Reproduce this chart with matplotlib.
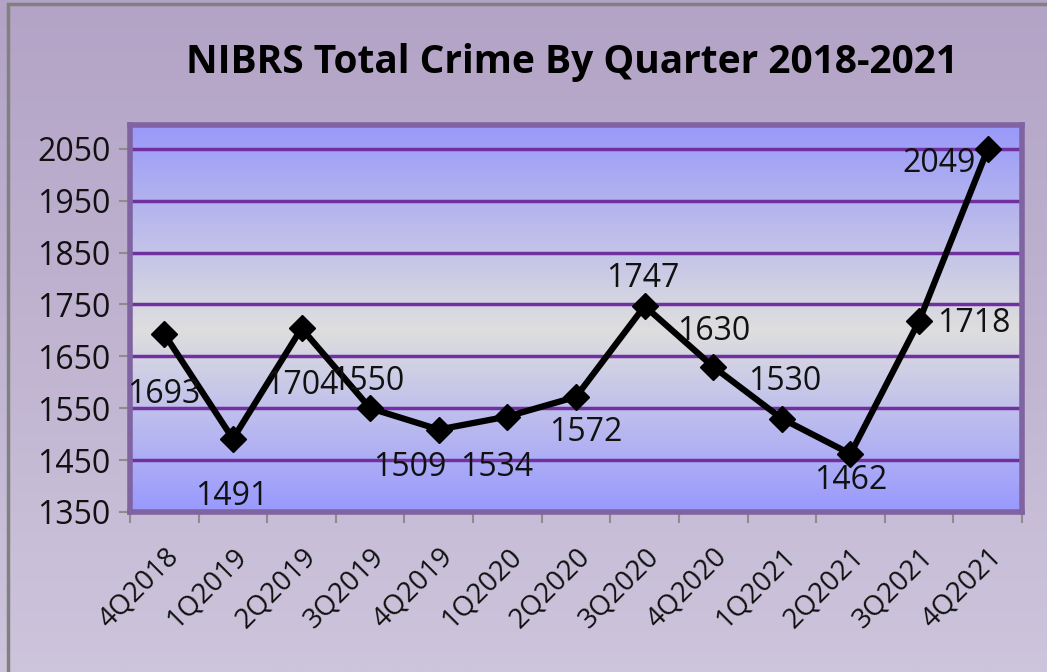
import numpy as np
import matplotlib
matplotlib.use('Agg')
import matplotlib.pyplot as plt
from matplotlib.colors import LinearSegmentedColormap
from matplotlib.patches import Rectangle

plt.rcParams['font.family'] = ['Open Sans', 'DejaVu Sans']

# data
quarters = ['4Q2018', '1Q2019', '2Q2019', '3Q2019', '4Q2019', '1Q2020', '2Q2020',
            '3Q2020', '4Q2020', '1Q2021', '2Q2021', '3Q2021', '4Q2021']
crimes = [1693, 1491, 1704, 1550, 1509, 1534, 1572, 1747, 1630, 1530, 1462, 1718, 2049]
yticks = [1350, 1450, 1550, 1650, 1750, 1850, 1950, 2050]

# label offsets in pixels (dx, dy)
label_offsets = [(-1, -60), (-1, -58), (0, -57), (-2, 27), (-29, -38), (-11, -51), (10, -36),
                 (-2, 28), (0, 35), (3, 37), (0, -27), (55, -2), (-49, -14)]

fig = plt.figure(figsize=(10.47, 6.72), dpi=100)

# figure background gradient
bg = fig.add_axes([0, 0, 1, 1], zorder=-10)
bg_cmap = LinearSegmentedColormap.from_list('bg', ['#cdc5dc', '#b3a3c6'])
bg.imshow(np.linspace(0, 1, 256).reshape(-1, 1), cmap=bg_cmap, aspect='auto',
          extent=[0, 1, 0, 1], origin='lower')
bg.set_xlim(0, 1)
bg.set_ylim(0, 1)
bg.axis('off')
bg.add_patch(Rectangle((8 / 1047, -0.1), 1.2, 1.1 - 4 / 672, fill=False,
                       edgecolor='#808080', lw=2.5))

ax = fig.add_axes([130 / 1047, 1 - 512 / 672, 892 / 1047, 387 / 672])

# plot area gradient
pa_cmap = LinearSegmentedColormap.from_list(
    'pa', [(0, '#9999ff'), (0.47, '#dedede'), (1, '#9999fa')])
ax.imshow(np.linspace(0, 1, 256).reshape(-1, 1), cmap=pa_cmap, aspect='auto',
          extent=[0, 1, 0, 1], origin='lower', transform=ax.transAxes, zorder=0)

x = np.arange(len(quarters))
ax.plot(x, crimes, color='black', lw=4.5, marker='D', markersize=13,
        markeredgewidth=1, zorder=5, solid_joinstyle='miter')

for xi, v, (dx, dy) in zip(x, crimes, label_offsets):
    ax.annotate(str(v), (xi, v), xytext=(dx, dy), textcoords='offset pixels',
                ha='center', va='center', fontsize=23, color='#111111', zorder=6)

ax.set_xlim(-0.5, len(quarters) - 0.5)
ax.set_ylim(1350, 2096)

ax.set_yticks(yticks)
ax.set_yticklabels([str(t) for t in yticks], fontsize=23, color='#111111')
for t in yticks[1:]:
    ax.axhline(t, color='#7030a0', lw=2.5, zorder=2)

# category axis: ticks between categories, labels at centres
ax.set_xticks(np.arange(-0.5, len(quarters)), minor=False)
ax.set_xticklabels([])
ax.set_xticks(x, minor=True)
ax.set_xticklabels(quarters, minor=True, rotation=45, ha='right',
                   rotation_mode='anchor', fontsize=20, color='#111111')
ax.tick_params(axis='x', which='minor', length=0, pad=22)
ax.tick_params(axis='x', which='major', length=8, width=1.5, color='#8c8c8c')
ax.tick_params(axis='y', length=8, width=1.5, color='#8c8c8c', pad=6)

for s in ax.spines.values():
    s.set_color('#8064a2')
    s.set_linewidth(4)

fig.text(0.546, 1 - 62 / 672, 'NIBRS Total Crime By Quarter 2018-2021',
         ha='center', va='center', fontsize=28, fontweight='bold')

plt.savefig('out.png', dpi=100)
